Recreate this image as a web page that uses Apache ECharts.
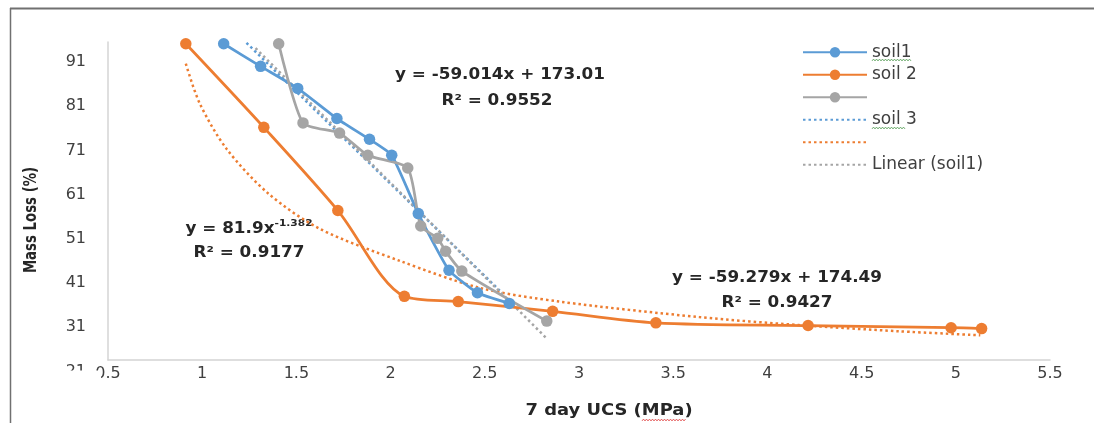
<!DOCTYPE html>
<html><head><meta charset="utf-8">
<script src="https://cdn.jsdelivr.net/npm/echarts@6/dist/echarts.min.js"></script>
<style>html,body{margin:0;padding:0;background:#fff}#c{width:1094px;height:423px}</style>
</head><body><div id="c"></div>
<script>
// ---- data ----
const soil1X = [1.114, 1.310, 1.507, 1.715, 1.888, 2.006, 2.147, 2.310, 2.461, 2.630];
const soil1Y = [95.1, 90.0, 85.0, 78.2, 73.5, 69.9, 56.7, 43.9, 38.8, 36.4];

const soil2X = [0.913, 1.327, 1.720, 2.073, 2.359, 2.860, 3.408, 4.216, 4.975, 5.137];
const soil2Y = [95.1, 76.2, 57.4, 38.0, 36.8, 34.6, 32.0, 31.4, 30.9, 30.7];

const soil3X = [1.406, 1.535, 1.729, 1.879, 2.091, 2.160, 2.250, 2.292, 2.378, 2.829];
const soil3Y = [95.1, 77.2, 74.9, 69.9, 67.0, 53.9, 51.1, 48.2, 43.7, 32.4];

// trendlines as seen in the picture
const trendBlueX = [1.235, 2.579];
const trendBlueY = [95.3, 39.3];

const trendOrangeX = [0.913, 0.987, 1.130, 1.352, 1.627, 2.050, 2.474, 2.897, 3.638, 4.167, 4.696, 5.130];
const trendOrangeY = [90.6, 81.6, 71.3, 61.2, 53.2, 46.0, 39.9, 36.8, 33.3, 31.5, 30.1, 29.2];

const trendGreyX = [1.283, 2.828];
const trendGreyY = [94.1, 28.5];

const yTickLabels = [31, 41, 51, 61, 71, 81, 91];
const seriesNames = ['soil1', 'soil 2', ' ', 'soil 3', '  ', 'Linear (soil1)'];

// ---- chart ----
function pairs(xs, ys) { return xs.map((x, i) => [x, ys[i]]); }

const C1 = '#5B9BD5', C2 = '#ED7D31', C3 = '#A5A5A5';
const FONT = 'DejaVu Sans';
const TXT = '#262626';
const chart = echarts.init(document.getElementById('c'), null, { renderer: 'canvas' });

function solid(name, xs, ys, color, smooth) {
  return {
    name, type: 'line', data: pairs(xs, ys), smooth: smooth,
    symbol: 'circle', symbolSize: 11.5, showSymbol: true,
    lineStyle: { color, width: 2.75 }, itemStyle: { color }, z: 3
  };
}
function dotted(name, xs, ys, color, smooth) {
  return {
    name, type: 'line', data: pairs(xs, ys), smooth: smooth,
    symbol: 'none', showSymbol: false,
    lineStyle: { color, width: 2.5, type: [2.5, 3] }, itemStyle: { color }, z: 2
  };
}

// decorative spell-check squiggle (as in the screenshot)
function squiggle(x0, x1, y, color) {
  const pts = [];
  for (let x = x0, k = 0; x <= x1; x += 1.5, k++) pts.push([x, y + (k % 2 ? -0.9 : 0.9)]);
  return { type: 'polyline', shape: { points: pts }, style: { stroke: color, lineWidth: 0.9, fill: null }, silent: true };
}

const legendData = seriesNames.map((n, i) =>
  i >= 3 ? { name: n, itemStyle: { opacity: 0 } } : { name: n });

const option = {
  animation: false,
  backgroundColor: '#fff',
  grid: { left: 108, right: 44, top: 42, bottom: 63 },
  xAxis: {
    type: 'value', min: 0.5, max: 5.5, interval: 0.5,
    axisLine: { show: true, lineStyle: { color: '#d4d4d4', width: 1.5 } },
    axisTick: { show: false }, splitLine: { show: false },
    axisLabel: { color: '#404040', fontFamily: FONT, fontSize: 16, margin: 6 }
  },
  yAxis: {
    type: 'value', min: 23.6, max: 95.5,
    axisLine: { show: true, lineStyle: { color: '#d4d4d4', width: 1.5 } },
    axisTick: { show: false }, splitLine: { show: false },
    axisLabel: { customValues: yTickLabels, color: '#404040', fontFamily: FONT, fontSize: 16, margin: 22 }
  },
  legend: {
    orient: 'vertical', left: 797, top: 38.5,
    data: legendData,
    itemWidth: 64, itemHeight: 13, itemGap: 5,
    textStyle: { color: '#404040', fontFamily: FONT, fontSize: 17, lineHeight: 17.5 }
  },
  series: [
    dotted(seriesNames[3], trendBlueX, trendBlueY, C1, false),
    dotted(seriesNames[4], trendOrangeX, trendOrangeY, C2, 0.3),
    dotted(seriesNames[5], trendGreyX, trendGreyY, C3, false),
    solid(seriesNames[0], soil1X, soil1Y, C1, 0.15),
    solid(seriesNames[1], soil2X, soil2Y, C2, 0.3),
    solid(seriesNames[2], soil3X, soil3Y, C3, 0.2)
  ],
  graphic: [
    // frame (page border of the screenshot)
    { type: 'line', shape: { x1: 10, y1: 8.5, x2: 1094, y2: 8.5 }, style: { stroke: '#707070', lineWidth: 2 }, silent: true },
    { type: 'line', shape: { x1: 10.5, y1: 8, x2: 10.5, y2: 423 }, style: { stroke: '#707070', lineWidth: 1.5 }, silent: true },
    // partially hidden bottom y label
    { type: 'text', x: 86, y: 372, z: 50, style: { text: '21', font: '16px ' + FONT, fill: '#404040', textAlign: 'right', textVerticalAlign: 'middle' }, silent: true },
    { type: 'rect', z: 51, shape: { x: 60, y: 370.5, width: 41, height: 14 }, style: { fill: '#fff' }, silent: true },
    // regression equations
    { type: 'text', x: 500, y: 75, scaleX: 1.12, style: { text: 'y = -59.014x + 173.01', font: 'bold 15px ' + FONT, fill: TXT, textAlign: 'center', textVerticalAlign: 'middle' } },
    { type: 'text', x: 497, y: 101, scaleX: 1.12, style: { text: 'R² = 0.9552', font: 'bold 15px ' + FONT, fill: TXT, textAlign: 'center', textVerticalAlign: 'middle' } },
    { type: 'text', x: 249, y: 229, scaleX: 1.12, style: {
        text: '{b|y = 81.9x}{s|-1.382}', textAlign: 'center', textVerticalAlign: 'middle',
        rich: { b: { fontFamily: FONT, fontWeight: 'bold', fontSize: 15, fill: TXT },
                s: { fontFamily: FONT, fontWeight: 'bold', fontSize: 9.5, fill: TXT, padding: [0, 0, 11, 0] } } } },
    { type: 'text', x: 249, y: 253, scaleX: 1.12, style: { text: 'R² = 0.9177', font: 'bold 15px ' + FONT, fill: TXT, textAlign: 'center', textVerticalAlign: 'middle' } },
    { type: 'text', x: 777, y: 278, scaleX: 1.12, style: { text: 'y = -59.279x + 174.49', font: 'bold 15px ' + FONT, fill: TXT, textAlign: 'center', textVerticalAlign: 'middle' } },
    { type: 'text', x: 777, y: 303, scaleX: 1.12, style: { text: 'R² = 0.9427', font: 'bold 15px ' + FONT, fill: TXT, textAlign: 'center', textVerticalAlign: 'middle' } },
    // axis titles
    { type: 'text', x: 609, y: 411, scaleX: 1.12, style: { text: '7 day UCS (MPa)', font: 'bold 16px ' + FONT, fill: TXT, textAlign: 'center', textVerticalAlign: 'middle' } },
    { type: 'text', x: 32, y: 220, rotation: Math.PI / 2, scaleX: 0.95, scaleY: 1.2, style: { text: 'Mass Loss (%)', font: 'bold 14px ' + FONT, fill: TXT, textAlign: 'center', textVerticalAlign: 'middle' } },
    // spell-check squiggles
    squiggle(872, 912, 60, '#5aa05a'),
    squiggle(872, 906, 128, '#5aa05a'),
    squiggle(642, 686, 420, '#e04848')
  ]
};
chart.setOption(option);
</script>
</body></html>
